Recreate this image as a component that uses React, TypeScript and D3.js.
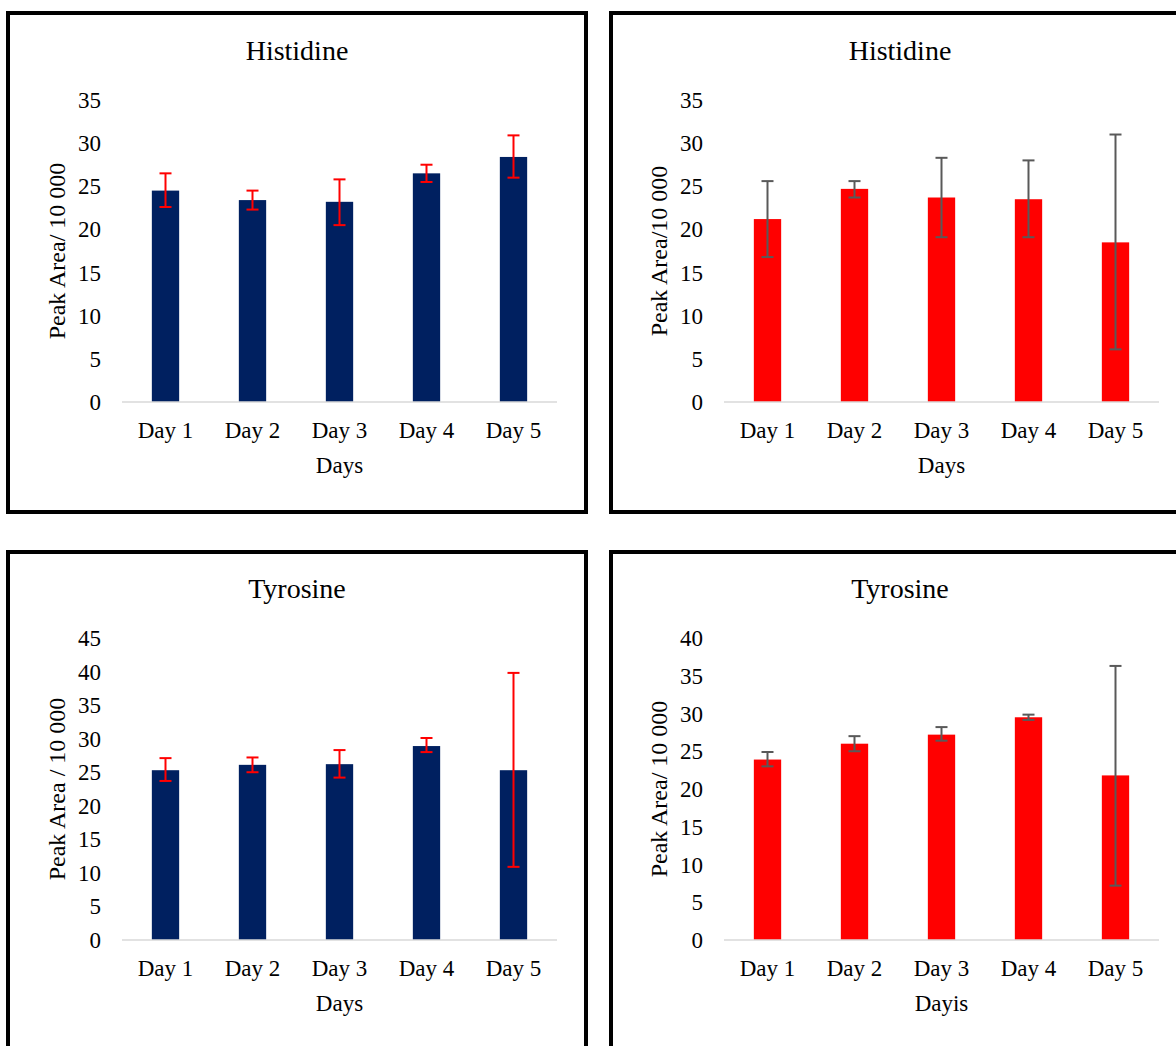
import React from "react";
import * as d3 from "d3";

const days = ["Day 1", "Day 2", "Day 3", "Day 4", "Day 5"];

const hisNavyVals = [24.5, 23.4, 23.2, 26.5, 28.4];
const hisNavyHi = [26.5, 24.5, 25.8, 27.5, 30.9];
const hisNavyLo = [22.6, 22.3, 20.5, 25.5, 26.0];

const hisRedVals = [21.2, 24.7, 23.7, 23.5, 18.5];
const hisRedHi = [25.6, 25.6, 28.3, 28.0, 31.0];
const hisRedLo = [16.8, 23.7, 19.1, 19.1, 6.1];

const tyrNavyVals = [25.3, 26.1, 26.2, 28.9, 25.3];
const tyrNavyHi = [27.1, 27.2, 28.3, 30.1, 39.8];
const tyrNavyLo = [23.7, 25.0, 24.2, 28.0, 10.9];

const tyrRedVals = [23.9, 26.0, 27.2, 29.5, 21.8];
const tyrRedHi = [24.9, 27.0, 28.2, 29.85, 36.3];
const tyrRedLo = [23.0, 25.0, 26.4, 29.15, 7.2];

const yTicksHis = [0, 5, 10, 15, 20, 25, 30, 35];
const yTicksTyrL = [0, 5, 10, 15, 20, 25, 30, 35, 40, 45];
const yTicksTyrR = [0, 5, 10, 15, 20, 25, 30, 35, 40];

const FONT = "'Liberation Serif', 'Times New Roman', serif";

type PanelProps = {
  dx: number;
  dy: number;
  bx: number;
  by: number;
  bw: number;
  bh: number;
  title: string;
  yTitle: string;
  xTitle: string;
  vals: number[];
  hi: number[];
  lo: number[];
  ticks: number[];
  barColor: string;
  errColor: string;
};

function Panel(p: PanelProps) {
  const x0 = 122 + p.dx;
  const x1 = 557 + p.dx;
  const yb = 402 + p.dy;
  const yt = 100 + p.dy;
  const x = d3.scaleBand<string>().domain(days).range([x0, x1]).padding(0);
  const y = d3
    .scaleLinear()
    .domain([0, p.ticks[p.ticks.length - 1]])
    .range([yb, yt]);
  const bw = x.bandwidth() * 0.314;
  const cap = 6;
  const panelCx = p.bx + 289;
  const plotCx = (x0 + x1) / 2;
  return (
    <g>
      <rect
        x={p.bx}
        y={p.by}
        width={p.bw}
        height={p.bh}
        fill="#fff"
        stroke="#000"
        strokeWidth={4}
      />
      <text
        x={panelCx}
        y={60 + p.dy}
        textAnchor="middle"
        fontSize={28}
        fontFamily={FONT}
        fill="#000"
      >
        {p.title}
      </text>
      {p.ticks.map((t) => (
        <text
          key={t}
          x={101 + p.dx}
          y={y(t)}
          dy="0.35em"
          textAnchor="end"
          fontSize={23}
          fontFamily={FONT}
          fill="#000"
        >
          {t}
        </text>
      ))}
      <text
        transform={`translate(${57 + p.dx},${(yb + yt) / 2}) rotate(-90)`}
        textAnchor="middle"
        dy="0.35em"
        fontSize={24}
        fontFamily={FONT}
        fill="#000"
      >
        {p.yTitle}
      </text>
      {days.map((d, i) => {
        const cx = (x(d) as number) + x.bandwidth() / 2;
        return (
          <rect
            key={d}
            x={cx - bw / 2}
            y={y(p.vals[i])}
            width={bw}
            height={yb - y(p.vals[i])}
            fill={p.barColor}
          />
        );
      })}
      <line x1={x0} x2={x1} y1={yb} y2={yb} stroke="#d9d9d9" strokeWidth={1.5} />
      {days.map((d, i) => {
        const cx = (x(d) as number) + x.bandwidth() / 2;
        return (
          <g key={d} stroke={p.errColor} strokeWidth={2}>
            <line x1={cx} x2={cx} y1={y(p.hi[i])} y2={y(p.lo[i])} />
            <line x1={cx - cap} x2={cx + cap} y1={y(p.hi[i])} y2={y(p.hi[i])} />
            <line x1={cx - cap} x2={cx + cap} y1={y(p.lo[i])} y2={y(p.lo[i])} />
          </g>
        );
      })}
      {days.map((d) => {
        const cx = (x(d) as number) + x.bandwidth() / 2;
        return (
          <text
            key={d}
            x={cx}
            y={438 + p.dy}
            textAnchor="middle"
            fontSize={23}
            fontFamily={FONT}
            fill="#000"
          >
            {d}
          </text>
        );
      })}
      <text
        x={plotCx}
        y={473 + p.dy}
        textAnchor="middle"
        fontSize={23}
        fontFamily={FONT}
        fill="#000"
      >
        {p.xTitle}
      </text>
    </g>
  );
}

export default function App() {
  const navy = "#002060";
  const red = "#ff0000";
  const gray = "#595959";
  return (
    <svg
      width={1176}
      height={1046}
      style={{ position: "absolute", left: 0, top: 0, background: "#fff" }}
    >
      <rect x={0} y={0} width={1176} height={1046} fill="#fff" />
      <Panel
        dx={0}
        dy={0}
        bx={8}
        by={13}
        bw={578}
        bh={499}
        title="Histidine"
        yTitle="Peak Area/ 10 000"
        xTitle="Days"
        vals={hisNavyVals}
        hi={hisNavyHi}
        lo={hisNavyLo}
        ticks={yTicksHis}
        barColor={navy}
        errColor={red}
      />
      <Panel
        dx={602}
        dy={0}
        bx={611}
        by={13}
        bw={600}
        bh={499}
        title="Histidine"
        yTitle="Peak Area/10 000"
        xTitle="Days"
        vals={hisRedVals}
        hi={hisRedHi}
        lo={hisRedLo}
        ticks={yTicksHis}
        barColor={red}
        errColor={gray}
      />
      <Panel
        dx={0}
        dy={538}
        bx={8}
        by={552}
        bw={578}
        bh={600}
        title="Tyrosine"
        yTitle="Peak Area / 10 000"
        xTitle="Days"
        vals={tyrNavyVals}
        hi={tyrNavyHi}
        lo={tyrNavyLo}
        ticks={yTicksTyrL}
        barColor={navy}
        errColor={red}
      />
      <Panel
        dx={602}
        dy={538}
        bx={611}
        by={552}
        bw={600}
        bh={600}
        title="Tyrosine"
        yTitle="Peak Area/ 10 000"
        xTitle="Dayis"
        vals={tyrRedVals}
        hi={tyrRedHi}
        lo={tyrRedLo}
        ticks={yTicksTyrR}
        barColor={red}
        errColor={gray}
      />
    </svg>
  );
}
